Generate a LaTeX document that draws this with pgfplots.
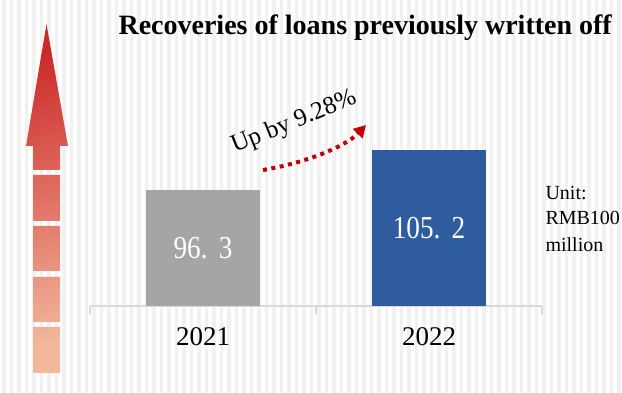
\documentclass[border=0pt]{standalone}
\usepackage{pgfplots}
\pgfplotsset{compat=1.18}
\usepackage{fontspec}
\setmainfont{Liberation Serif}
\usetikzlibrary{arrows.meta}
\definecolor{stripe}{HTML}{F1F1F1}
\definecolor{barGray}{HTML}{A5A5A5}
\definecolor{barBlue}{HTML}{2F5C9F}
\definecolor{arrTop}{HTML}{CC2A2A}
\definecolor{arrBot}{HTML}{F3B89C}
\definecolor{dotRed}{HTML}{C00000}
\definecolor{axGray}{HTML}{D9D9D9}
\begin{document}
\begin{tikzpicture}[x=1pt,y=1pt]
\fill[white] (0,0) rectangle (622,393);
\foreach \i in {0,...,82} \fill[stripe] ({\i*7.5+2},0) rectangle ++(3.8,393);
% decorative up arrow
\shade[top color=arrTop, bottom color=arrBot, shading angle=15]
 (46.5,369) -- (68,247) -- (60,247) -- (60,223) -- (33,223) -- (33,247) -- (26,247) -- cycle
 (33,218) rectangle (60,172)
 (33,167) rectangle (60,122)
 (33,116) rectangle (60,71)
 (33,66) rectangle (60,20);
\begin{axis}[at={(90pt,87pt)}, anchor=south west, scale only axis,
  width=452pt, height=200pt,
  xmin=-0.5, xmax=1.5, ymin=70.49, ymax=114.99,
  axis x line*=bottom, axis y line=none, ytick=\empty,
  x axis line style={-, draw=axGray, line width=1.5pt},
  xtick={-0.5,0.5,1.5}, xticklabels={},
  extra x ticks={0,1}, extra x tick labels={2021,2022},
  extra x tick style={major tick length=0pt, tick style={draw=none}},
  tick align=outside, major tick length=8pt,
  xtick style={draw=axGray, line width=1.5pt},
  xticklabel style={font=\fontsize{27}{30}\selectfont, anchor=base, yshift=-40pt},
  ]
\addplot[ybar, bar shift=0pt, bar width=114pt, fill=barGray, draw=none] coordinates {(0,96.3)};
\addplot[ybar, bar shift=0pt, bar width=114pt, fill=barBlue, draw=none] coordinates {(1,105.2)};
\addplot[draw=none, mark=none, nodes near coords, point meta=explicit symbolic,
  nodes near coords style={white, font=\fontsize{32}{34}\selectfont\addfontfeatures{FakeStretch=0.85}, anchor=center}]
  coordinates {(0,83.4) [96.\hspace{0.35em}3] (1,87.85) [105.\hspace{0.35em}2]};
\end{axis}
\node[anchor=base west, font=\bfseries\fontsize{28}{32}\selectfont] at (115,358) {Recoveries of loans previously written off};
\node[rotate=22, font=\fontsize{25}{28}\selectfont] at (294,270.5) {Up by 9.28\%};
\draw[dotRed, line width=4pt, dash pattern=on 4pt off 4.5pt, -{Triangle[length=12pt,width=13pt]}] (263,223) .. controls (305,230) and (345,246) .. (366,268);
\node[anchor=base west, font=\fontsize{20}{26}\selectfont] at (542,193) {Unit:};
\node[anchor=base west, font=\fontsize{20}{26}\selectfont] at (542,168) {RMB100};
\node[anchor=base west, font=\fontsize{20}{26}\selectfont] at (542,141) {million};
\pgfresetboundingbox
\useasboundingbox (0,0) rectangle (622,393);
\end{tikzpicture}
\end{document}
